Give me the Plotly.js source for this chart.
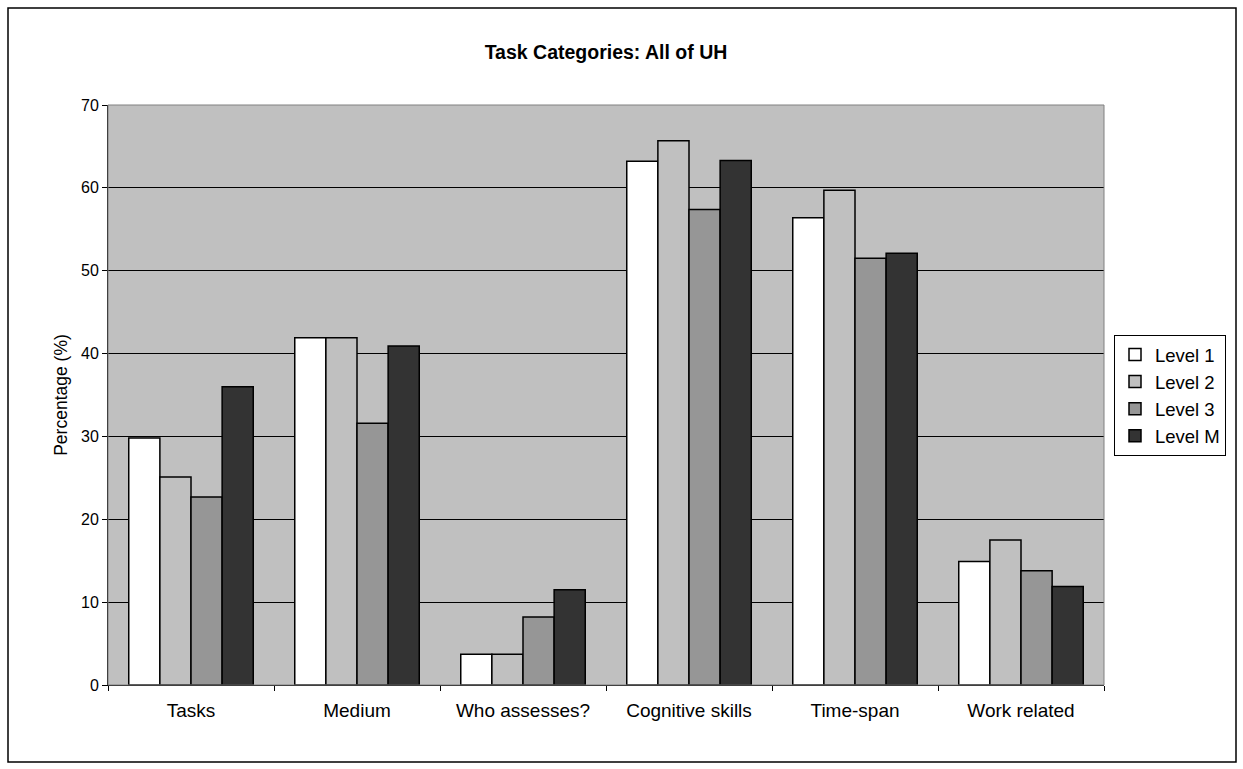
<!DOCTYPE html>
<html>
<head>
<meta charset="utf-8">
<script src="https://cdn.plot.ly/plotly-3.0.1.min.js"></script>
<style>
html,body{margin:0;padding:0;background:#fff;}
#chart{width:1243px;height:769px;}
</style>
</head>
<body>
<div id="chart"></div>
<script>
const categories = ["Tasks", "Medium", "Who assesses?", "Cognitive skills", "Time-span", "Work related"];
const level1 = [29.8, 41.9, 3.7, 63.2, 56.4, 14.9];
const level2 = [25.1, 41.9, 3.7, 65.7, 59.7, 17.5];
const level3 = [22.7, 31.6, 8.2, 57.4, 51.5, 13.8];
const levelM = [36.0, 40.9, 11.5, 63.3, 52.1, 11.9];
const seriesNames = ["Level 1", "Level 2", "Level 3", "Level M"];
const seriesColors = ["#FFFFFF", "#C0C0C0", "#969696", "#333333"];
const seriesValues = [level1, level2, level3, levelM];

const FONT = "Liberation Sans, Arial, sans-serif";

const traces = seriesValues.map((vals, i) => ({
  type: "bar",
  name: seriesNames[i],
  x: categories,
  y: vals,
  marker: {color: seriesColors[i], line: {color: "#000000", width: 1.5}},
  hoverinfo: "x+y+name"
}));

const L = 108, R = 1104, T = 105, B = 685, W = 1243, H = 769;
const pw = R - L, ph = B - T;
const px = v => (v - L) / pw;
const py = v => (B - v) / ph;

const layout = {
  width: W, height: H,
  margin: {l: L, r: W - R, t: T, b: H - B, pad: 0},
  paper_bgcolor: "#FFFFFF",
  plot_bgcolor: "#C0C0C0",
  font: {family: FONT, color: "#000000", size: 16},
  title: {
    text: "<b>Task Categories: All of UH</b>",
    font: {family: FONT, size: 19.5, color: "#000"},
    x: 0.5, xref: "paper", y: 1 - 52 / H, yref: "container", yanchor: "middle"
  },
  barmode: "group",
  bargap: 0.25,
  bargroupgap: 0,
  showlegend: true,
  legend: {
    x: px(1114), y: py(335), xanchor: "left", yanchor: "top",
    bgcolor: "#FFFFFF", bordercolor: "#000000", borderwidth: 1,
    font: {family: FONT, size: 18.5, color: "#000"},
    itemwidth: 30, tracegroupgap: 0
  },
  xaxis: {
    type: "category",
    tickson: "boundaries",
    ticks: "outside", ticklen: 5, tickcolor: "#000", tickwidth: 1,
    showline: true, linecolor: "#000", linewidth: 1,
    showgrid: false,
    ticklabelstandoff: 8,
    tickfont: {family: FONT, size: 19, color: "#000"},
    mirror: false,
    fixedrange: true
  },
  yaxis: {
    range: [0, 70], dtick: 10, tick0: 0,
    ticks: "outside", ticklen: 5, tickcolor: "#000", tickwidth: 1,
    showline: true, linecolor: "#000", linewidth: 1,
    showgrid: true, gridcolor: "#000000", gridwidth: 1,
    zeroline: false,
    tickfont: {family: FONT, size: 16, color: "#000"},
    title: {text: "Percentage (%)", font: {family: FONT, size: 17.5, color: "#000"}, standoff: 8},
    fixedrange: true
  },
  shapes: [
    {type: "rect", xref: "paper", yref: "paper", x0: 0, x1: 1, y0: 0, y1: 1,
     line: {color: "#808080", width: 1}, layer: "above"},
    {type: "rect", xref: "paper", yref: "paper", x0: px(8), x1: px(1236), y0: py(762), y1: py(8),
     line: {color: "#000000", width: 1.5}}
  ]
};

Plotly.newPlot("chart", traces, layout, {displayModeBar: false, staticPlot: true});
</script>
</body>
</html>
